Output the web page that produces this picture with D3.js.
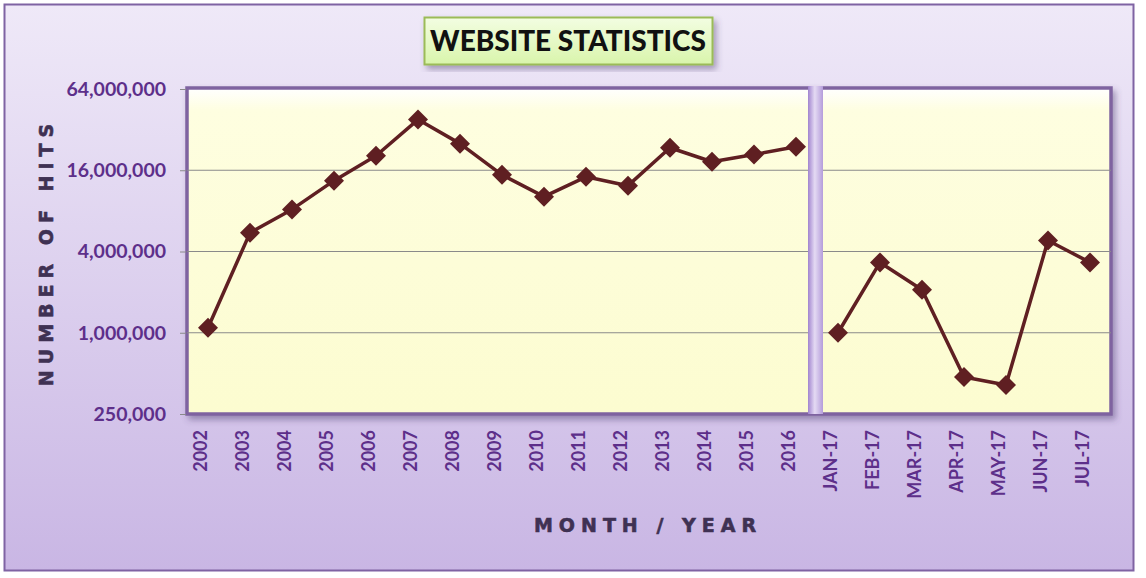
<!DOCTYPE html>
<html>
<head>
<meta charset="utf-8">
<script src="https://cdn.jsdelivr.net/npm/d3@7"></script>
<style>
  html, body { margin: 0; padding: 0; background: #fff; }
  svg { display: block; }
</style>
</head>
<body>
<svg id="chart" width="1146" height="578"></svg>
<script>
const categories = ["2002","2003","2004","2005","2006","2007","2008","2009","2010","2011","2012","2013","2014","2015","2016",
  "JAN-17","FEB-17","MAR-17","APR-17","MAY-17","JUN-17","JUL-17"];
const hits = [1090000, 5500000, 8200000, 13400000, 20500000, 38000000, 25200000, 14800000, 10200000, 14300000, 12300000,
  23500000, 18500000, 20900000, 23900000,
  1000000, 3320000, 2080000, 470000, 410000, 4830000, 3320000];
const yTicks = [250000, 1000000, 4000000, 16000000, 64000000];
const titleText = "WEBSITE STATISTICS";
const yTitle = "NUMBER OF HITS";
const xTitle = "MONTH / YEAR";
const separatorBefore = "JAN-17";

const svg = d3.select("#chart");
const plot = {left: 187, right: 1111, top: 89, bottom: 414};

const defs = svg.append("defs");
const bg = defs.append("linearGradient").attr("id","bg").attr("x1",0).attr("y1",0).attr("x2",0).attr("y2",1);
bg.append("stop").attr("offset","0%").attr("stop-color","#efe9f8");
bg.append("stop").attr("offset","100%").attr("stop-color","#c9b6e4");
const pf = defs.append("linearGradient").attr("id","pf").attr("x1",0).attr("y1",0).attr("x2",0).attr("y2",1);
pf.append("stop").attr("offset","0%").attr("stop-color","#ffffff");
pf.append("stop").attr("offset","7%").attr("stop-color","#fefee0");
pf.append("stop").attr("offset","100%").attr("stop-color","#fcfcd0");
const tg = defs.append("linearGradient").attr("id","tg").attr("x1",0).attr("y1",0).attr("x2",0).attr("y2",1);
tg.append("stop").attr("offset","0%").attr("stop-color","#f3fde2");
tg.append("stop").attr("offset","100%").attr("stop-color","#d9f5ab");
const sg = defs.append("linearGradient").attr("id","sg").attr("x1",0).attr("y1",0).attr("x2",1).attr("y2",0);
sg.append("stop").attr("offset","0%").attr("stop-color","#a184cf");
sg.append("stop").attr("offset","45%").attr("stop-color","#e4daf3");
sg.append("stop").attr("offset","100%").attr("stop-color","#b59ddb");
const sh = defs.append("filter").attr("id","shadow").attr("x","-5%").attr("y","-10%").attr("width","110%").attr("height","125%");
sh.append("feDropShadow").attr("dx",3).attr("dy",4).attr("stdDeviation",3).attr("flood-color","#4a3a6a").attr("flood-opacity",0.45);

// Outer background
svg.append("rect").attr("x",4.5).attr("y",4.5).attr("width",1129).attr("height",566)
  .attr("fill","url(#bg)").attr("stroke","#7f63a3").attr("stroke-width",2);

// Scales
const x = d3.scaleBand().domain(categories).range([plot.left, plot.right]);
const xc = d => x(d) + x.bandwidth()/2;
const y = d3.scaleLog().base(2).domain([250000, 64000000]).range([plot.bottom, plot.top]);

// Plot area
svg.append("rect").attr("x",plot.left).attr("y",plot.top-1).attr("width",plot.right-plot.left).attr("height",plot.bottom-plot.top+1)
  .attr("fill","url(#pf)").attr("stroke","#7f64a0").attr("stroke-width",3.5).attr("filter","url(#shadow)");

// Gridlines
svg.append("g").selectAll("line").data(yTicks.slice(1,-1)).join("line")
  .attr("x1",plot.left).attr("x2",plot.right).attr("y1",d=>y(d)).attr("y2",d=>y(d))
  .attr("stroke","#8a8a8a").attr("stroke-width",1);

// Y axis
const yAxis = d3.axisLeft(y).tickValues(yTicks).tickFormat(d3.format(",")).tickSize(6).tickPadding(14);
const ya = svg.append("g").attr("transform",`translate(${plot.left-1},0)`).call(yAxis);
ya.select(".domain").remove();
ya.selectAll(".tick line").attr("stroke","#8a8a8a");
ya.selectAll(".tick text").attr("fill","#5d2f8a").attr("font-family","Lato, 'Open Sans', sans-serif")
  .attr("font-weight","bold").attr("font-size","19.5px");

// X axis
const xAxis = d3.axisBottom(x).tickSize(0).tickPadding(0);
const xa = svg.append("g").attr("transform",`translate(0,${plot.bottom+16})`).call(xAxis);
xa.select(".domain").remove();
xa.selectAll(".tick text").attr("fill","#5d2f8a").attr("font-family","Lato, 'Open Sans', sans-serif")
  .attr("font-weight","bold").attr("font-size","18px")
  .attr("transform","rotate(-90)").attr("text-anchor","end").attr("dx","0").attr("dy","-0.3em").attr("y",0).attr("x",0)
  .style("dominant-baseline","middle");

// Separator bar
svg.append("rect").attr("x",x(separatorBefore)-9).attr("y",plot.top-3).attr("width",15).attr("height",plot.bottom-plot.top+3)
  .attr("fill","url(#sg)");

// Line
const lineA = d3.line().x((d,i)=>xc(categories[i])).y(d=>y(d));
const lineB = d3.line().x((d,i)=>xc(categories[i+15])).y(d=>y(d));
svg.append("path").attr("d",lineA(hits.slice(0,15))).attr("fill","none").attr("stroke","#5f1f22").attr("stroke-width",3.5).attr("stroke-linejoin","round");
svg.append("path").attr("d",lineB(hits.slice(15))).attr("fill","none").attr("stroke","#5f1f22").attr("stroke-width",3.5).attr("stroke-linejoin","round");
svg.append("g").selectAll("path").data(hits).join("path")
  .attr("d","M0,-10L10,0L0,10L-10,0Z")
  .attr("transform",(d,i)=>`translate(${xc(categories[i])},${y(d)})`)
  .attr("fill","#5f1f22");

// Title box
const tb = svg.append("g");
tb.append("rect").attr("x",424.5).attr("y",17.5).attr("width",288).attr("height",47)
  .attr("fill","url(#tg)").attr("stroke","#9bbb59").attr("stroke-width",2).attr("filter","url(#shadow)");
tb.append("text").attr("x",568).attr("y",50.5).attr("text-anchor","middle")
  .attr("font-family","Lato, 'Open Sans', sans-serif").attr("font-weight","900").attr("font-size","28px")
  .attr("fill","#111").text(titleText);

// Axis titles
svg.append("text").attr("transform","translate(53,252) rotate(-90)").attr("text-anchor","middle")
  .attr("font-family","'DejaVu Sans', sans-serif").attr("font-weight","bold").attr("font-size","19px")
  .attr("letter-spacing","6px").attr("fill","#3f3153").attr("stroke","#3f3153").attr("stroke-width",0.6).text(yTitle);
svg.append("text").attr("x",648).attr("y",532).attr("text-anchor","middle")
  .attr("font-family","'DejaVu Sans', sans-serif").attr("font-weight","bold").attr("font-size","19px")
  .attr("letter-spacing","6px").attr("fill","#3f3153").attr("stroke","#3f3153").attr("stroke-width",0.6).text(xTitle);
</script>
</body>
</html>
